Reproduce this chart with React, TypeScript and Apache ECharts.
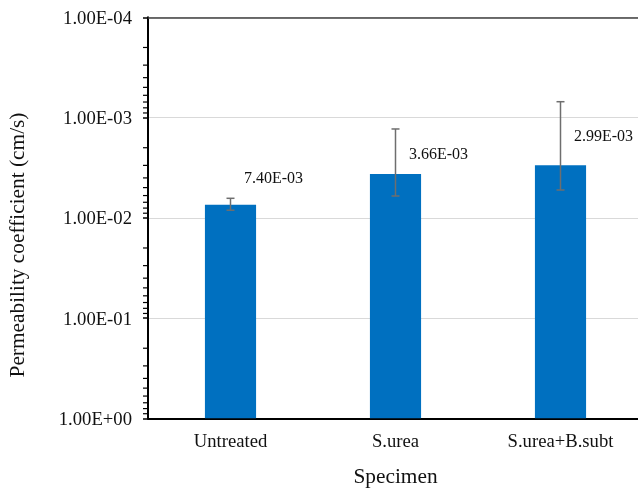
import React, { useEffect, useRef } from "react";
import * as echarts from "echarts";

const categories = ["Untreated", "S.urea", "S.urea+B.subt"];
const permeability = [7.4e-3, 3.66e-3, 2.99e-3];
const valueLabels = ["7.40E-03", "3.66E-03", "2.99E-03"];
const errorLow = [8.4e-3, 6.06e-3, 5.28e-3];
const errorHigh = [6.39e-3, 1.3e-3, 6.95e-4];
const yMin = 1e-4;
const yMax = 1;

// layout nudges for the data labels (pixels)
const labelDy = [-14, -8, -17];

const SERIF = "'Liberation Serif', 'Times New Roman', serif";

function fmtExp(v: number): string {
  const e = Math.round(Math.log10(v));
  return "1.00E" + (e < 0 ? "-" : "+") + String(Math.abs(e)).padStart(2, "0");
}

// minor tick positions of the log axis: 2..9 within each decade
const minorTickValues: number[] = [];
for (let e = Math.round(Math.log10(yMin)); e < Math.round(Math.log10(yMax)); e++) {
  for (let k = 2; k <= 9; k++) minorTickValues.push(k * Math.pow(10, e));
}

const GRID_LEFT = 148;

export default function App() {
  const ref = useRef<HTMLDivElement>(null);
  useEffect(() => {
    if (!ref.current) return;
    const chart = echarts.init(ref.current, null, { renderer: "svg" });
    chart.setOption({
      animation: false,
      grid: { left: GRID_LEFT, top: 17.3, bottom: 70.7, right: -5, outerBoundsMode: "none" },
      xAxis: [
        {
          type: "category",
          data: categories,
          position: "bottom",
          axisLine: { onZero: false, lineStyle: { color: "#000", width: 2 } },
          axisTick: { show: false },
          axisLabel: { fontFamily: SERIF, fontSize: 18.67, color: "#111", margin: 13 },
          name: "Specimen",
          nameLocation: "middle",
          nameGap: 47,
          nameTextStyle: { fontFamily: SERIF, fontSize: 21.33, color: "#111" },
        },
        {
          type: "category",
          data: categories,
          position: "top",
          axisLine: { onZero: false, lineStyle: { color: "#404040", width: 1.5 } },
          axisTick: { show: false },
          axisLabel: { show: false },
        },
      ],
      yAxis: {
        type: "log",
        logBase: 10,
        min: yMin,
        max: yMax,
        inverse: true,
        axisLine: { show: true, onZero: false, lineStyle: { color: "#000", width: 2 } },
        axisTick: { show: true, inside: false, length: 5, lineStyle: { color: "#000", width: 1.5 } },
        axisLabel: {
          formatter: (v: number) => fmtExp(v),
          fontFamily: SERIF,
          fontSize: 18.67,
          color: "#111",
          margin: 16,
        },
        splitLine: { show: true, lineStyle: { color: "#d9d9d9", width: 1 } },
      },
      series: [
        {
          type: "bar",
          xAxisIndex: 0,
          barWidth: "31%",
          data: permeability.map((v, i) => ({
            value: v,
            label: { offset: [43, labelDy[i]] },
          })),
          itemStyle: { color: "#0070C0" },
          label: {
            show: true,
            position: "top",
            formatter: (p: any) => valueLabels[p.dataIndex],
            fontFamily: SERIF,
            fontSize: 16,
            color: "#111",
          },
          z: 2,
        },
        {
          type: "custom",
          xAxisIndex: 0,
          silent: true,
          z: 5,
          data: categories.map((_, i) => [i, errorLow[i], errorHigh[i]]),
          encode: { x: 0, y: [1, 2] },
          renderItem: (params: any, api: any) => {
            const i = api.value(0);
            const lo = api.coord([i, api.value(1)]);
            const hi = api.coord([i, api.value(2)]);
            const hw = 4;
            const style = { stroke: "#6e6e6e", lineWidth: 1.5 };
            return {
              type: "group",
              children: [
                { type: "line", shape: { x1: lo[0], y1: lo[1], x2: hi[0], y2: hi[1] }, style },
                { type: "line", shape: { x1: lo[0] - hw, y1: lo[1], x2: lo[0] + hw, y2: lo[1] }, style },
                { type: "line", shape: { x1: hi[0] - hw, y1: hi[1], x2: hi[0] + hw, y2: hi[1] }, style },
              ],
            };
          },
        },
      ],
    });

    // minor ticks (2..9 per decade) placed through the y axis scale
    const tickLines = minorTickValues.map((v) => {
      const y = chart.convertToPixel({ yAxisIndex: 0 }, v) as number;
      return {
        type: "line",
        silent: true,
        z: 10,
        shape: { x1: GRID_LEFT - 5, y1: y, x2: GRID_LEFT, y2: y },
        style: { stroke: "#000", lineWidth: 1.2 },
      };
    });
    chart.setOption({
      graphic: [
        {
          type: "text",
          x: 17,
          y: 245,
          rotation: Math.PI / 2,
          style: {
            text: "Permeability coefficient (cm/s)",
            fontFamily: SERIF,
            fontSize: 21.33,
            fill: "#111",
            textAlign: "center",
            textVerticalAlign: "middle",
          },
        },
        ...tickLines,
      ],
    });
    return () => chart.dispose();
  }, []);
  return (
    <div
      ref={ref}
      style={{ position: "fixed", left: 0, top: 0, width: 638, height: 489 }}
    />
  );
}
